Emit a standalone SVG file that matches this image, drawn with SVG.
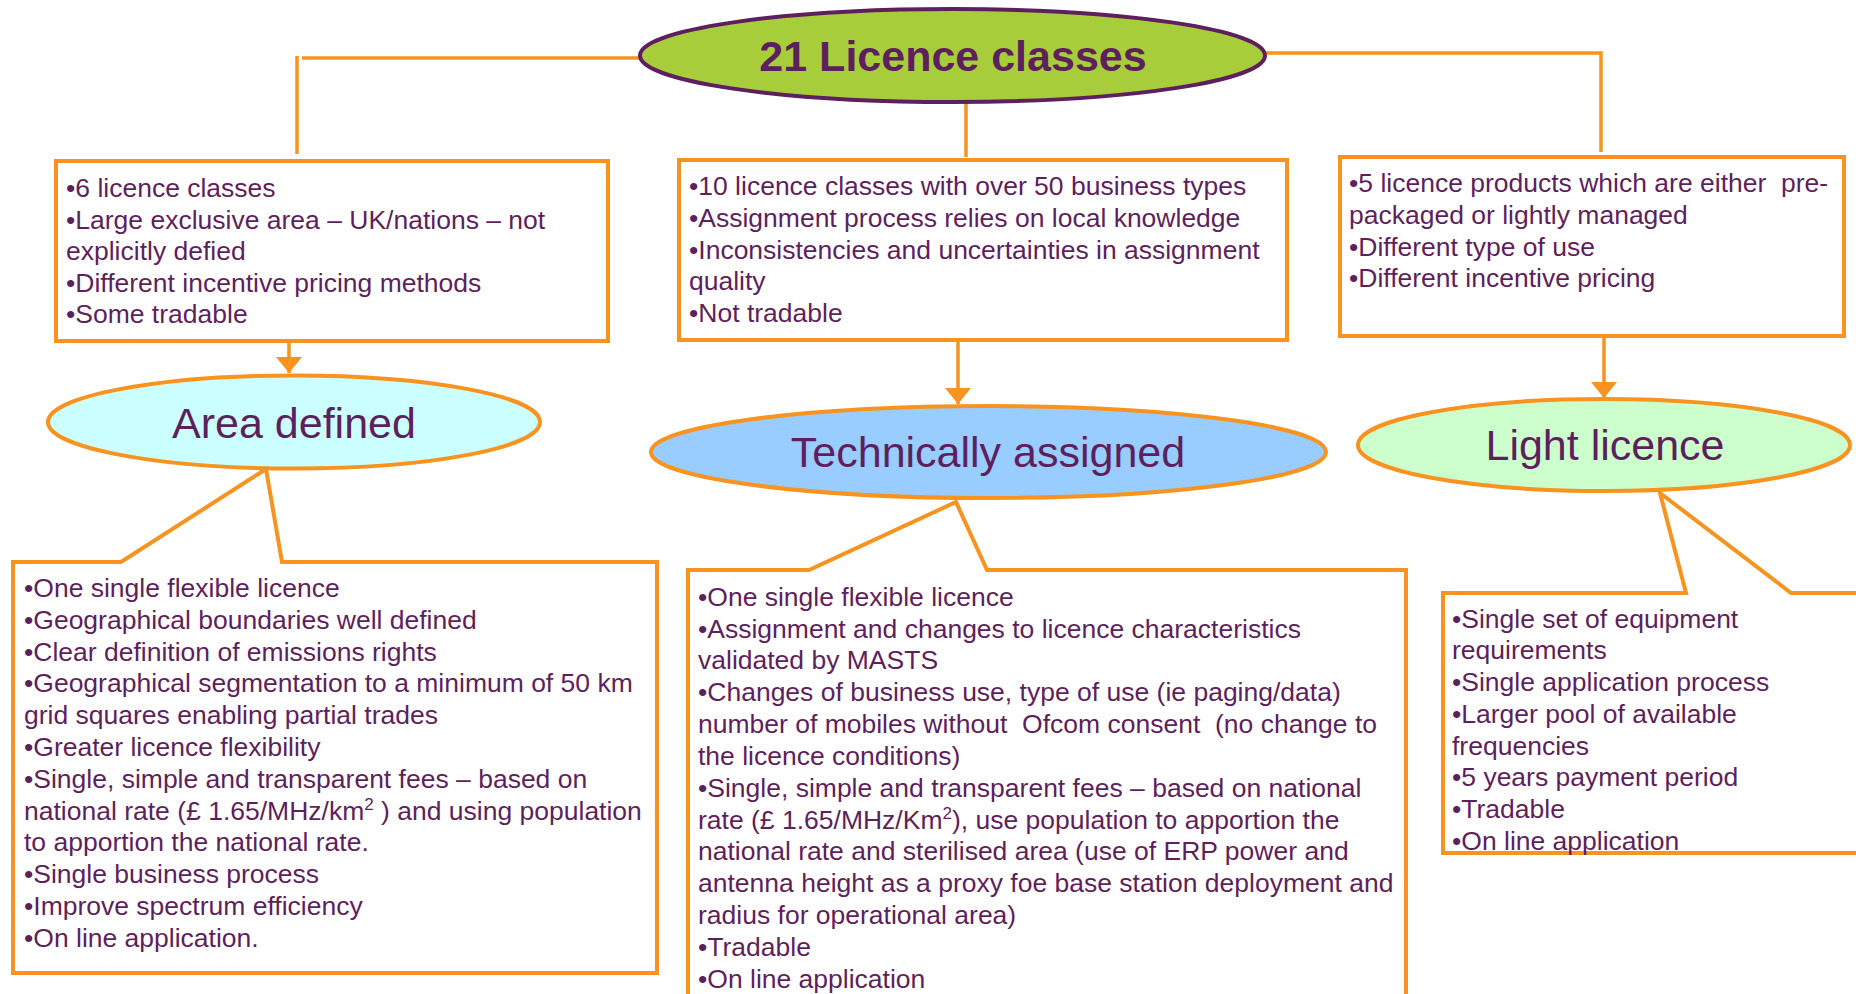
<svg xmlns="http://www.w3.org/2000/svg" width="1856" height="994" viewBox="0 0 1856 994">
<style>
.box{fill:#ffffff;stroke:#f7931e;stroke-width:4;stroke-linejoin:miter}
.oval{stroke:#f7931e;stroke-width:4}
.ln{fill:none;stroke:#f7931e;stroke-width:3.5}
.t{font-family:"Liberation Sans",Arial,sans-serif;font-size:26.5px;fill:#5e1f5e;white-space:pre}
.big{font-family:"Liberation Sans",Arial,sans-serif;font-size:43px;fill:#5e1f5e;text-anchor:middle}
.title{font-family:"Liberation Sans",Arial,sans-serif;font-size:43px;font-weight:bold;fill:#5e1f5e;text-anchor:middle}
</style>
<defs>
<marker id="arr" markerUnits="userSpaceOnUse" viewBox="0 0 16 26" markerWidth="16" markerHeight="26" refX="16" refY="13" orient="auto">
<path d="M0,0 L16,13 L0,26 Z" fill="#f7931e"/>
</marker>
</defs>
<rect width="1856" height="994" fill="#ffffff"/>
<g id="connectors">
<line class="ln" x1="297" y1="56" x2="297" y2="154"/>
<line class="ln" x1="302" y1="58" x2="640" y2="58"/>
<line class="ln" x1="966" y1="97" x2="966" y2="157"/>
<polyline class="ln" points="1266,53 1601,53 1601,152"/>
<line class="ln" x1="289" y1="341" x2="289" y2="373" marker-end="url(#arr)"/>
<line class="ln" x1="958" y1="340" x2="958" y2="404" marker-end="url(#arr)"/>
<line class="ln" x1="1604" y1="336" x2="1604" y2="398" marker-end="url(#arr)"/>
</g>
<g id="title">
<ellipse cx="952.5" cy="55.5" rx="312.5" ry="46.5" fill="#a8cd3a" stroke="#5e1f5e" stroke-width="4"/>
<text class="title" x="953" y="71">21 Licence classes</text>
</g>
<g id="box-area-top">
<rect class="box" x="56" y="161" width="552" height="180"/>
<text class="t" x="66" y="197">•6 licence classes</text>
<text class="t" x="66" y="229">•Large exclusive area – UK/nations – not</text>
<text class="t" x="66" y="260">explicitly defied</text>
<text class="t" x="66" y="292">•Different incentive pricing methods</text>
<text class="t" x="66" y="323">•Some tradable</text>
</g>
<g id="box-tech-top">
<rect class="box" x="679" y="160" width="608" height="180"/>
<text class="t" x="689" y="195">•10 licence classes with over 50 business types</text>
<text class="t" x="689" y="227">•Assignment process relies on local knowledge</text>
<text class="t" x="689" y="259">•Inconsistencies and uncertainties in assignment</text>
<text class="t" x="689" y="290">quality</text>
<text class="t" x="689" y="322">•Not tradable</text>
</g>
<g id="box-light-top">
<rect class="box" x="1340" y="157" width="504" height="179"/>
<text class="t" x="1349" y="192">•5 licence products which are either  pre-</text>
<text class="t" x="1349" y="224">packaged or lightly managed</text>
<text class="t" x="1349" y="256">•Different type of use</text>
<text class="t" x="1349" y="287">•Different incentive pricing</text>
</g>
<g id="area-defined">
<ellipse class="oval" cx="294" cy="422" rx="246" ry="46.5" fill="#ccffff"/>
<text class="big" x="294" y="438">Area defined</text>
</g>
<g id="technically-assigned">
<ellipse class="oval" cx="988.5" cy="452" rx="337.5" ry="46" fill="#99ccff"/>
<text class="big" x="988" y="467">Technically assigned</text>
</g>
<g id="light-licence">
<ellipse class="oval" cx="1604" cy="445" rx="246" ry="46" fill="#ccffcc"/>
<text class="big" x="1605" y="460">Light licence</text>
</g>
<g id="callout-area">
<path class="box" d="M13,562 L121,562 L266,469 L282,562 L657,562 L657,973 L13,973 Z"/>
<text class="t" x="24" y="597">•One single flexible licence</text>
<text class="t" x="24" y="629">•Geographical boundaries well defined</text>
<text class="t" x="24" y="661">•Clear definition of emissions rights</text>
<text class="t" x="24" y="692">•Geographical segmentation to a minimum of 50 km</text>
<text class="t" x="24" y="724">grid squares enabling partial trades</text>
<text class="t" x="24" y="756">•Greater licence flexibility</text>
<text class="t" x="24" y="788">•Single, simple and transparent fees – based on</text>
<text class="t" x="24" y="820">national rate (£ 1.65/MHz/km<tspan font-size="17" dy="-10">2</tspan><tspan dy="10"> ) and using population</tspan></text>
<text class="t" x="24" y="851">to apportion the national rate.</text>
<text class="t" x="24" y="883">•Single business process</text>
<text class="t" x="24" y="915">•Improve spectrum efficiency</text>
<text class="t" x="24" y="947">•On line application.</text>
</g>
<g id="callout-tech">
<path class="box" d="M688,1000 L688,570 L809,570 L956,502 L987,570 L1406,570 L1406,1000"/>
<text class="t" x="698" y="606">•One single flexible licence</text>
<text class="t" x="698" y="638">•Assignment and changes to licence characteristics</text>
<text class="t" x="698" y="669">validated by MASTS</text>
<text class="t" x="698" y="701">•Changes of business use, type of use (ie paging/data)</text>
<text class="t" x="698" y="733">number of mobiles without  Ofcom consent  (no change to</text>
<text class="t" x="698" y="765">the licence conditions)</text>
<text class="t" x="698" y="797">•Single, simple and transparent fees – based on national</text>
<text class="t" x="698" y="829">rate (£ 1.65/MHz/Km<tspan font-size="17" dy="-10">2</tspan><tspan dy="10">), use population to apportion the</tspan></text>
<text class="t" x="698" y="860">national rate and sterilised area (use of ERP power and</text>
<text class="t" x="698" y="892">antenna height as a proxy foe base station deployment and</text>
<text class="t" x="698" y="924">radius for operational area)</text>
<text class="t" x="698" y="956">•Tradable</text>
<text class="t" x="698" y="988">•On line application</text>
</g>
<g id="callout-light">
<path class="box" d="M1443,593 L1686,593 L1660,493 L1791,593 L1870,593 L1870,853 L1443,853 Z"/>
<text class="t" x="1452" y="628">•Single set of equipment</text>
<text class="t" x="1452" y="659">requirements</text>
<text class="t" x="1452" y="691">•Single application process</text>
<text class="t" x="1452" y="723">•Larger pool of available</text>
<text class="t" x="1452" y="755">frequencies</text>
<text class="t" x="1452" y="786">•5 years payment period</text>
<text class="t" x="1452" y="818">•Tradable</text>
<text class="t" x="1452" y="850">•On line application</text>
</g>
</svg>
